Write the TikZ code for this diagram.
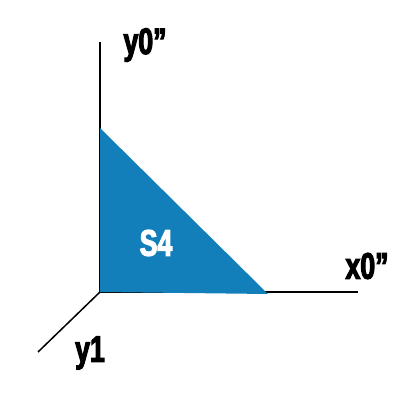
\documentclass[tikz,border=0pt]{standalone}
\usepackage{fontspec}
\newfontfamily\impactfont[FakeStretch=0.72,FakeBold=3]{Liberation Sans Bold}
\definecolor{sblue}{RGB}{18,127,186}
\begin{document}
\begin{tikzpicture}[x=1pt,y=-1pt,
  axis/.style={draw=black,line width=1.5pt},
  lbl/.style={font=\impactfont\fontsize{37}{37}\selectfont,inner sep=0pt}]
\useasboundingbox (0,0) rectangle (413,403);
\coordinate (o) at (100,292);
\coordinate (ytop) at (100,42);
\coordinate (xend) at (358,292);
\coordinate (zend) at (38,352);
\coordinate (a) at (100,128);
\coordinate (b) at (268,294);
\draw[axis] (ytop) -- (o) -- (xend);
\draw[axis] (o) -- (zend);
\fill[sblue] (a) -- (o) -- (b) -- cycle;
\node[lbl] (ly) at (145,45) {y0”};
\node[lbl] (lx) at (367,266) {x0”};
\node[lbl] (lz) at (90,353) {y1};
\node[lbl,text=white] (ls) at (156,243) {S4};
\end{tikzpicture}
\end{document}
